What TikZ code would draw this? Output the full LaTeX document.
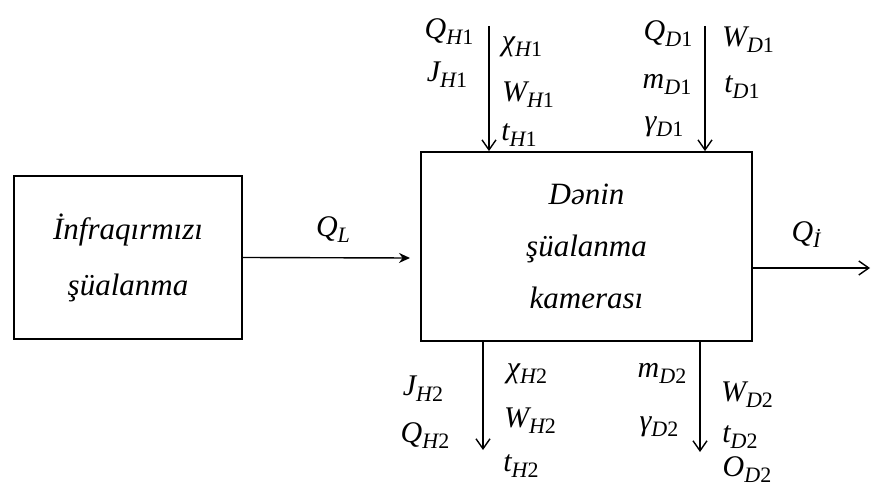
\documentclass[tikz,border=0pt]{standalone}
\usepackage{fontspec}
\setmainfont{Liberation Serif}
\usetikzlibrary{arrows.meta}

% variable with subscript: italic letter, italic letter + upright digit in the index
\newcommand{\varsub}[3]{{\itshape #1}\raisebox{-0.2em}{\fontsize{22}{22}\selectfont\itshape #2\upshape #3}}

\begin{document}
\begin{tikzpicture}[x=1pt,y=-1pt,
  block/.style={draw,line width=1.8pt,align=center,font=\fontsize{31}{52}\selectfont\itshape},
  flow/.style={line width=1.4pt,-{Straight Barb[length=10pt,width=14pt,line width=1.4pt]}},
  lbl/.style={inner sep=0pt,font=\fontsize{30}{30}\selectfont}]
  \useasboundingbox (0,0) rectangle (876,486);

  % blocks
  \node[block,minimum width=228pt,minimum height=163pt] (src) at (128,257.5)
    {İnfraqırmızı\\[4pt]şüalanma};
  \node[block,minimum width=331pt,minimum height=189pt] (cam) at (586.5,246.5)
    {Dənin\\şüalanma\\kamerası};

  % free ends of the flows
  \coordinate (ql) at (410,258);
  \coordinate (qi) at (870,268);
  \coordinate (h1) at (489,26);
  \coordinate (d1) at (705,26);
  \coordinate (h2) at (483,450);
  \coordinate (d2) at (700,452);

  % flows
  \draw[flow,-{Stealth[length=11pt,width=10pt]}] (src.east) -- (ql);
  \draw[flow] (cam.east |- qi) -- (qi);
  \draw[flow] (h1) -- (h1 |- cam.north);
  \draw[flow] (d1) -- (d1 |- cam.north);
  \draw[flow] (h2 |- cam.south) -- (h2);
  \draw[flow] (d2 |- cam.south) -- (d2);

  % flow labels
  \node[lbl] (lql) at (333,230) {\varsub{Q}{L}{}};
  \node[lbl] (lqi) at (806,235) {\varsub{Q}{İ}{}};

  \node[lbl] (qh1) at (449,32) {\varsub{Q}{H}{1}};
  \node[lbl] (jh1) at (447,75) {\varsub{J}{H}{1}};
  \node[lbl] (xh1) at (522,47) {\varsub{χ}{H}{1}};
  \node[lbl] (wh1) at (528,95) {\varsub{W}{H}{1}};
  \node[lbl] (th1) at (519,135) {\varsub{t}{H}{1}};

  \node[lbl] (qd1) at (668,34) {\varsub{Q}{D}{1}};
  \node[lbl] (md1) at (667,84) {\varsub{m}{D}{1}};
  \node[lbl] (gd1) at (664,127) {\varsub{γ}{D}{1}};
  \node[lbl] (wd1) at (748,40) {\varsub{W}{D}{1}};
  \node[lbl] (td1) at (742,87) {\varsub{t}{D}{1}};

  \node[lbl] (jh2) at (423,389) {\varsub{J}{H}{2}};
  \node[lbl] (qh2) at (425,436) {\varsub{Q}{H}{2}};
  \node[lbl] (xh2) at (527,374) {\varsub{χ}{H}{2}};
  \node[lbl] (wh2) at (530,421) {\varsub{W}{H}{2}};
  \node[lbl] (th2) at (521,466) {\varsub{t}{H}{2}};

  \node[lbl] (md2) at (662,373) {\varsub{m}{D}{2}};
  \node[lbl] (gd2) at (659,427) {\varsub{γ}{D}{2}};
  \node[lbl] (wd2) at (747,395) {\varsub{W}{D}{2}};
  \node[lbl] (td2) at (740,437) {\varsub{t}{D}{2}};
  \node[lbl] (od2) at (747,470) {\varsub{O}{D}{2}};
\end{tikzpicture}
\end{document}
